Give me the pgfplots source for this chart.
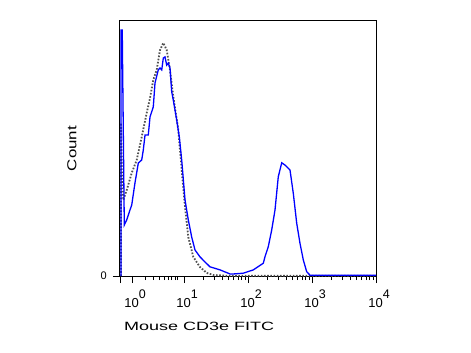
\documentclass[border=0pt]{standalone}
\usepackage{pgfplots}
\pgfplotsset{compat=1.18}
\usepackage{fontspec}
\setmainfont{Liberation Sans}
\newfontfamily\widefont[FakeStretch=1.5]{Liberation Sans}
\newfontfamily\cntfont[FakeStretch=1.3]{Liberation Sans}
\newcommand\dec[1]{10\raisebox{8.8pt}{\fontsize{12.5}{13}\selectfont#1}}
\definecolor{isogray}{RGB}{80,80,80}
\begin{document}
\begin{tikzpicture}
\begin{axis}[
  scale only axis,
  width=256pt, height=255pt,
  xmin=0, xmax=4, ymin=0, ymax=100,
  axis line style={line width=1pt, black},
  xtick={0,0.19,1,2,3,4},
  xticklabels={,\dec{0},\dec{1},\dec{2},\dec{3},\dec{4}},
  minor xtick={0.39,0.52,0.62,0.70,0.76,0.81,0.86,0.90,
    1.301,1.477,1.602,1.699,1.778,1.845,1.903,1.954,
    2.301,2.477,2.602,2.699,2.778,2.845,2.903,2.954,
    3.301,3.477,3.602,3.699,3.778,3.845,3.903,3.954},
  ytick={0}, yticklabels={0},
  tick align=outside,
  xtick pos=bottom, ytick pos=left,
  major tick length=7pt, minor tick length=4pt,
  every tick/.style={black, line width=0.8pt},
  xticklabel style={font=\fontsize{13}{14}\selectfont, inner sep=0pt, anchor=north, yshift=-7pt, xshift=3pt},
  yticklabel style={font=\fontsize{11}{12}\selectfont, inner sep=0pt, anchor=east, xshift=-6pt},
  xlabel={\widefont\fontsize{12}{14}\selectfont Mouse CD3e FITC},
  ylabel={\cntfont\fontsize{13}{15}\selectfont Count},
  every axis x label/.style={at={(axis description cs:0.0156,-0.196)}, anchor=west, inner sep=0pt},
  every axis y label/.style={at={(axis description cs:-0.1875,0.5)}, anchor=center, rotate=90, inner sep=0pt},
  clip=true,
]
\addplot[isogray, line width=1.8pt, dash pattern=on 1.6pt off 1.6pt] table {
x y
0.016 0
0.016 60
0.030 40
0.052 29.8
0.105 33.7
0.183 40.4
0.261 45.5
0.339 54.5
0.417 63.9
0.469 69.8
0.520 76.9
0.573 80.8
0.625 88.6
0.677 91.4
0.730 88.6
0.781 80.8
0.833 70.2
0.911 57.3
0.964 41.6
1.016 27.1
1.067 15.3
1.145 7.5
1.25 3.5
1.355 1.2
1.458 0.4
1.667 0.1
4.0 0.1
};
\addplot[blue, line width=1.3pt] table {
x y
0.016 0
0.016 96.5
0.035 96.5
0.067 20.0
0.105 22.0
0.156 25.9
0.183 27.8
0.234 36.5
0.286 44.3
0.339 45.5
0.364 49.4
0.391 55.3
0.442 55.3
0.469 62.4
0.520 66.3
0.547 75.7
0.598 80.8
0.625 81.6
0.652 80.8
0.677 85.5
0.703 85.9
0.730 82.7
0.755 83.5
0.781 81.6
0.808 72.2
0.833 69.0
0.886 61.2
0.927 54.5
0.964 45.5
1.016 29.8
1.067 22.0
1.120 15.3
1.172 10.2
1.25 7.5
1.328 5.5
1.406 3.6
1.5625 2.4
1.719 0.8
1.77 0.8
1.927 1.1
2.083 2.4
2.239 5.0
2.266 7.6
2.317 11.5
2.370 18.0
2.422 25.9
2.473 38.9
2.527 44.4
2.578 43.5
2.656 41.6
2.708 32.4
2.761 20.7
2.8125 12.8
2.864 6.3
2.917 1.7
2.969 0.3
4.0 0.3
};
\coordinate (O) at (rel axis cs:0,0);
\end{axis}
\path (O) ++(-120pt,-77pt) rectangle ++(471pt,353pt);
\end{tikzpicture}
\end{document}
